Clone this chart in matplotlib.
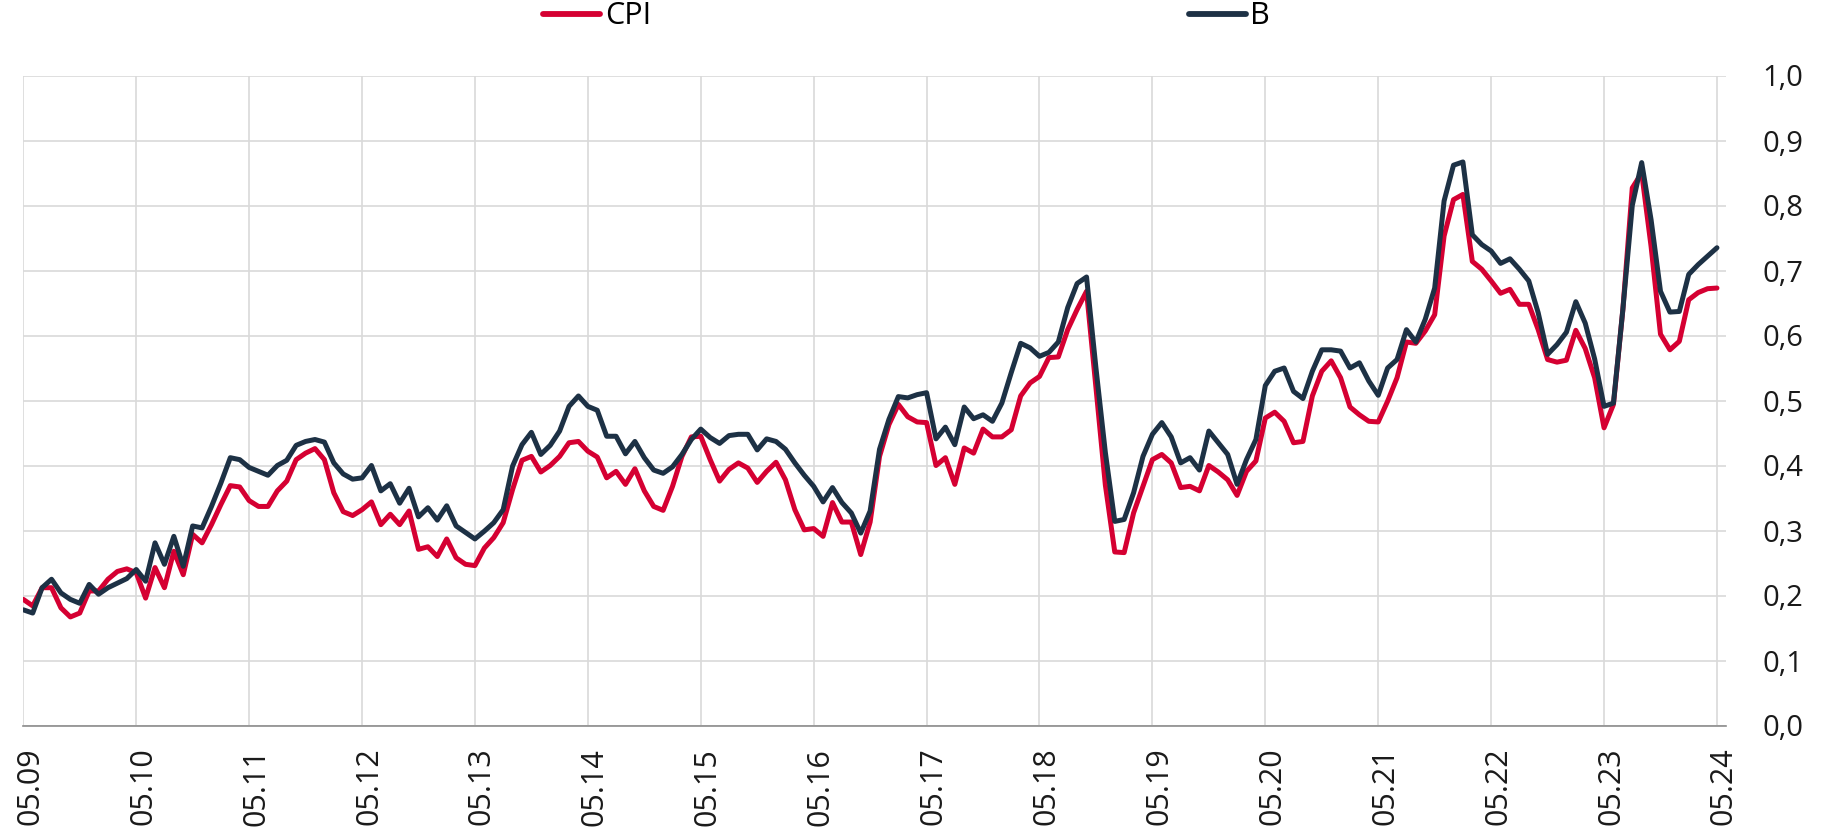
import matplotlib
matplotlib.use("Agg")
import matplotlib.pyplot as plt
import matplotlib.transforms as mtransforms
import numpy as np

# ---- data (monthly, 05.2009 .. 05.2024) ----
tick_labels = ["05.09", "05.10", "05.11", "05.12", "05.13", "05.14", "05.15", "05.16",
               "05.17", "05.18", "05.19", "05.20", "05.21", "05.22", "05.23", "05.24"]
y_ticks = [0.0, 0.1, 0.2, 0.3, 0.4, 0.5, 0.6, 0.7, 0.8, 0.9, 1.0]
y_tick_labels = ["0,0", "0,1", "0,2", "0,3", "0,4", "0,5", "0,6", "0,7", "0,8", "0,9", "1,0"]

cpi = [
    0.194, 0.184, 0.212, 0.212, 0.181, 0.167, 0.173, 0.207, 0.207, 0.225, 0.237, 0.241,
    0.235, 0.196, 0.243, 0.212, 0.268, 0.232, 0.294, 0.281, 0.309, 0.340, 0.369, 0.367,
    0.346, 0.337, 0.337, 0.361, 0.376, 0.409, 0.419, 0.426, 0.409, 0.358, 0.329, 0.323,
    0.332, 0.344, 0.309, 0.325, 0.309, 0.330, 0.271, 0.275, 0.260, 0.287, 0.258, 0.248,
    0.246, 0.273, 0.289, 0.312, 0.363, 0.408, 0.414, 0.390, 0.400, 0.414, 0.435, 0.437,
    0.422, 0.413, 0.381, 0.391, 0.371, 0.395, 0.361, 0.337, 0.331, 0.368, 0.414, 0.444,
    0.445, 0.409, 0.376, 0.394, 0.404, 0.396, 0.374, 0.391, 0.405, 0.378, 0.332, 0.301,
    0.303, 0.291, 0.343, 0.313, 0.313, 0.263, 0.313, 0.414, 0.463, 0.494, 0.475, 0.467,
    0.466, 0.400, 0.412, 0.371, 0.427, 0.419, 0.456, 0.444, 0.444, 0.455, 0.507, 0.527,
    0.537, 0.566, 0.567, 0.609, 0.640, 0.668, 0.520, 0.370, 0.267, 0.266, 0.327, 0.368,
    0.409, 0.417, 0.404, 0.366, 0.368, 0.361, 0.400, 0.390, 0.378, 0.354, 0.391, 0.407,
    0.473, 0.482, 0.468, 0.435, 0.437, 0.507, 0.545, 0.561, 0.535, 0.490, 0.478, 0.468,
    0.467, 0.499, 0.535, 0.590, 0.588, 0.607, 0.632, 0.753, 0.809, 0.817, 0.714, 0.702,
    0.684, 0.665, 0.671, 0.648, 0.648, 0.609, 0.563, 0.559, 0.562, 0.608, 0.580, 0.535,
    0.458, 0.494, 0.640, 0.827, 0.850, 0.737, 0.602, 0.578, 0.591, 0.655, 0.666, 0.672,
    0.673,
]

b = [
    0.178, 0.173, 0.212, 0.225, 0.204, 0.194, 0.188, 0.217, 0.202, 0.212, 0.219, 0.226,
    0.240, 0.222, 0.281, 0.248, 0.291, 0.245, 0.307, 0.304, 0.337, 0.373, 0.412, 0.409,
    0.397, 0.391, 0.385, 0.400, 0.408, 0.431, 0.437, 0.440, 0.436, 0.404, 0.387, 0.379,
    0.381, 0.400, 0.361, 0.372, 0.342, 0.365, 0.321, 0.335, 0.316, 0.338, 0.307, 0.297,
    0.287, 0.299, 0.312, 0.332, 0.399, 0.432, 0.451, 0.417, 0.431, 0.453, 0.491, 0.507,
    0.491, 0.485, 0.445, 0.445, 0.418, 0.437, 0.412, 0.393, 0.388, 0.398, 0.417, 0.440,
    0.456, 0.443, 0.434, 0.446, 0.448, 0.448, 0.424, 0.441, 0.437, 0.425, 0.404, 0.385,
    0.368, 0.344, 0.366, 0.343, 0.327, 0.296, 0.330, 0.425, 0.471, 0.506, 0.504, 0.509,
    0.512, 0.441, 0.459, 0.432, 0.490, 0.472, 0.478, 0.468, 0.496, 0.543, 0.588, 0.581,
    0.568, 0.574, 0.590, 0.643, 0.680, 0.690, 0.550, 0.420, 0.314, 0.317, 0.358, 0.414,
    0.448, 0.466, 0.444, 0.404, 0.412, 0.393, 0.453, 0.435, 0.417, 0.371, 0.409, 0.440,
    0.523, 0.545, 0.550, 0.514, 0.503, 0.545, 0.578, 0.578, 0.576, 0.550, 0.558, 0.530,
    0.508, 0.550, 0.563, 0.609, 0.590, 0.625, 0.673, 0.807, 0.862, 0.867, 0.755, 0.740,
    0.730, 0.711, 0.718, 0.702, 0.684, 0.635, 0.571, 0.586, 0.605, 0.652, 0.619, 0.564,
    0.491, 0.496, 0.640, 0.800, 0.866, 0.778, 0.668, 0.636, 0.637, 0.694, 0.709, 0.722,
    0.735,
]

months = np.arange(len(cpi))
tick_pos = np.arange(0, len(cpi), 12)

# ---- figure ----
W, H = 1849, 836
fig = plt.figure(figsize=(W / 100, H / 100), dpi=100)
left, right = 23.3 / W, 1726 / W
bottom, top = (H - 725.5) / H, (H - 75.5) / H
ax = fig.add_axes([left, bottom, right - left, top - bottom])

red = "#D50032"
navy = "#1D3145"
font = "Open Sans"

ax.plot(months, cpi, color=red, lw=3.6, solid_joinstyle="round", solid_capstyle="round",
        label="CPI", zorder=3)
ax.plot(months, b, color=navy, lw=3.6, solid_joinstyle="round", solid_capstyle="round",
        label="B", zorder=4)

ax.set_xlim(0, 180 + 9 / 9.36)
ax.set_ylim(0, 1.0)

ax.set_xticks(tick_pos)
ax.set_xticklabels(tick_labels, rotation=90, fontsize=22, family=font, color="#1a1a1a")
ax.set_yticks(y_ticks)
ax.set_yticklabels(y_tick_labels, fontsize=21, family=font, color="#1a1a1a")
ax.yaxis.tick_right()
ax.tick_params(axis="y", length=0, pad=26)
ax.tick_params(axis="x", length=0, pad=16)

# shift x tick labels slightly right, as in the reference
offset = mtransforms.ScaledTranslation(7 / 100, 0, fig.dpi_scale_trans)
for lbl in ax.get_xticklabels():
    lbl.set_transform(lbl.get_transform() + offset)

ax.grid(True, color="#d9d9d9", linewidth=1.2)
ax.set_axisbelow(True)
for s in ["top", "right", "left"]:
    ax.spines[s].set_visible(False)
ax.spines["bottom"].set_color("#8c8c8c")
ax.spines["bottom"].set_linewidth(1.2)

# legend across the top
leg = fig.legend(loc="center left", bbox_to_anchor=(543 / W, 1 - 16.5 / H), ncol=2,
                 frameon=False, prop={"family": font, "size": 22},
                 handlelength=1.86, handletextpad=0.16, columnspacing=17.6,
                 borderpad=0, borderaxespad=0)
for line in leg.get_lines():
    line.set_linewidth(4.2)
    line.set_solid_capstyle("round")

fig.savefig("out.png", dpi=100, facecolor="white")
